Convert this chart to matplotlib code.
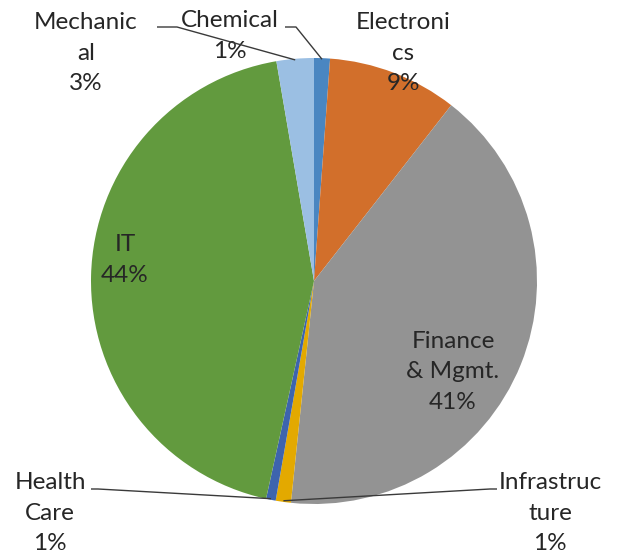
import matplotlib
matplotlib.use('Agg')
import matplotlib.pyplot as plt
import numpy as np

# share of each field (percent), clockwise from the top
fields = ['Chemical', 'Electronics', 'Finance & Mgmt.', 'Infrastructure',
          'Health Care', 'IT', 'Mechanical']
shares = [1.15, 9.4, 41.1, 1.1, 0.7, 43.85, 2.7]
# how the labels wrap in the original
shown = ['Chemical', 'Electroni\ncs', 'Finance\n& Mgmt.', 'Infrastruc\nture',
         'Health\nCare', 'IT', 'Mechanic\nal']
colors = ['#4A86C1', '#D26F2B', '#939393', '#E3A900', '#3D64AE', '#629A3E', '#9BBFE3']

plt.rcParams['font.family'] = ['Lato', 'DejaVu Sans']

W, H = 619, 556
cx, cy, R = 314, 281, 223   # pie centre and radius in pixels

fig = plt.figure(figsize=(W/100, H/100), dpi=100)
ax = fig.add_axes([0, 0, 1, 1])

wedges, _ = ax.pie(shares, colors=colors, startangle=90, counterclock=False,
                   radius=1, wedgeprops=dict(linewidth=0))
# pie() resets the limits, so set them afterwards
ax.set_xlim(-cx/R, (W-cx)/R)
ax.set_ylim(-(H-cy)/R, cy/R)
ax.set_aspect('equal')
ax.axis('off')

def px(x, y):
    return (x-cx)/R, (cy-y)/R

# label centres (pixels) and leader elbows (None = label inside)
lab_pos = [(230, 36), (403, 53), (453, 372), (550, 513), (50, 513), (125, 260), (86, 53)]
elbows = [((285, 27), (296, 27)), None, None, ((497, 489), (490, 489)),
          ((91, 489), (98, 489)), None, ((157, 27), (177, 27))]

for w, s, name, pos, el in zip(wedges, shares, shown, lab_pos, elbows):
    txt = name + '\n' + '%.0f%%' % s
    x, y = px(*pos)
    ax.text(x, y, txt, ha='center', va='center', multialignment='center',
            fontsize=17.5, color='#262626', linespacing=1.58)
    if el is not None:
        mid = np.deg2rad((w.theta1 + w.theta2) / 2)
        ex, ey = np.cos(mid) * 0.995, np.sin(mid) * 0.995
        (x0, y0), (x1, y1) = px(*el[0]), px(*el[1])
        ax.plot([x0, x1, ex], [y0, y1, ey], color='#3a3a3a', lw=1.0,
                solid_capstyle='butt', zorder=5)

fig.savefig('out.png', dpi=100)
